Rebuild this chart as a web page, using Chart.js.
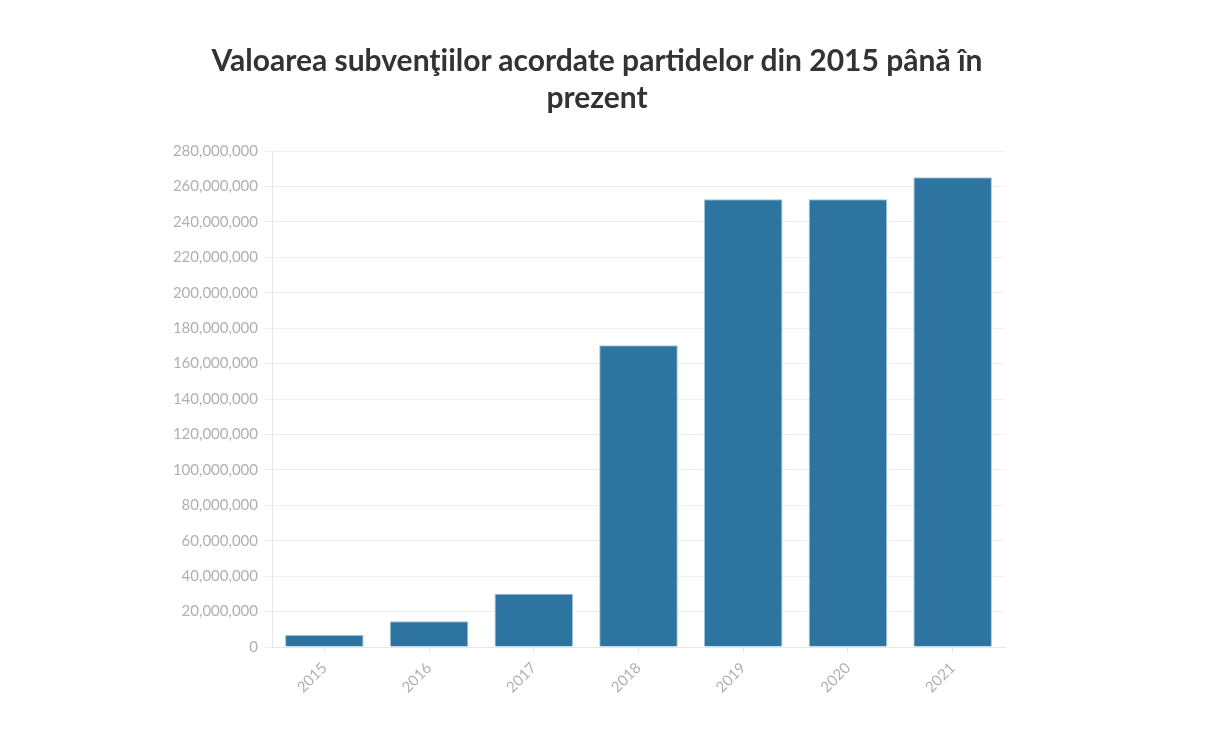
<!DOCTYPE html>
<html>
<head>
<meta charset="utf-8">
<script src="https://cdn.jsdelivr.net/npm/chart.js@4"></script>
<style>
  html, body { margin: 0; padding: 0; background: #fff; }
  #wrap { width: 1208px; height: 750px; position: relative; }
  #title {
    position: absolute;
    left: 197px;
    width: 800px;
    top: 41px;
    margin: 0;
    text-align: center;
    font-family: "Lato", sans-serif;
    font-weight: bold;
    font-size: 30px;
    line-height: 37px;
    color: #333333;
  }
</style>
</head>
<body>
<div id="wrap">
  <h1 id="title"></h1>
  <canvas id="subventiiChart"></canvas>
</div>
<script>
// --- Data ---
const years = ["2015", "2016", "2017", "2018", "2019", "2020", "2021"];
const subventii = [6800000, 14600000, 30100000, 170400000, 252800000, 252800000, 265200000];
const titleLines = ["Valoarea subvenţiilor acordate partidelor din 2015 până în", "prezent"];

document.getElementById("title").innerHTML = titleLines.join("<br>");

const tickGray = "#b0b0b0";
const gridGray = "#efefef";

new Chart(document.getElementById("subventiiChart"), {
  type: "bar",
  data: {
    labels: years,
    datasets: [
      {
        label: "Subvenţii",
        data: subventii,
        backgroundColor: "#2e74a0",
        borderColor: "#9cc3dc",
        borderWidth: 1,
        categoryPercentage: 1,
        barPercentage: 0.75,
      },
    ],
  },
  options: {
    responsive: true,
    maintainAspectRatio: false,
    animation: false,
    layout: { padding: { left: 0, right: 203, top: 151, bottom: 0 } },
    plugins: {
      legend: { display: false },
      tooltip: { enabled: false },
      title: { display: false },
    },
    scales: {
      y: {
        min: 0,
        max: 280000000,
        ticks: {
          stepSize: 20000000,
          color: tickGray,
          font: { family: "Lato", size: 15 },
          padding: 6,
          callback: function (value) {
            return value.toLocaleString("en-US");
          },
        },
        grid: { color: gridGray, tickLength: 8 },
        border: { color: "#e6e6e6" },
        afterFit: function (scale) {
          scale.width = 272;
        },
      },
      x: {
        ticks: {
          color: tickGray,
          font: { family: "Lato", size: 15 },
          minRotation: 45,
          maxRotation: 45,
          padding: 6,
        },
        grid: {
          offset: false,
          drawOnChartArea: false,
          color: "#e6e6e6",
          tickLength: 6,
        },
        border: { color: "#e6e6e6" },
        afterFit: function (scale) {
          scale.height = 103;
        },
      },
    },
  },
});
</script>
</body>
</html>
